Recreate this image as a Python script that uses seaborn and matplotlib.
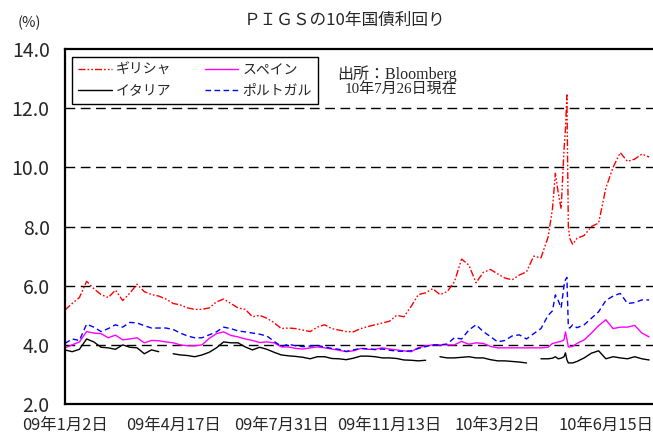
import numpy as np
import pandas as pd
import matplotlib
matplotlib.use("Agg")
import matplotlib.pyplot as plt
import seaborn as sns

# trading-day index of each observation (denser around the May 2010 spike)
days = list(range(0, 340, 5)) + [338, 340, 342, 344, 346, 347, 348, 349, 350, 352] + list(range(355, 406, 5))

greece = [5.18, 5.4, 5.6, 6.15, 5.9, 5.7, 5.6, 5.85, 5.5, 5.75,
          6.05, 5.8, 5.7, 5.65, 5.55, 5.4, 5.35, 5.25, 5.2, 5.2,
          5.25, 5.45, 5.55, 5.4, 5.25, 5.2, 4.95, 5.0, 4.9, 4.75,
          4.55, 4.57, 4.55, 4.5, 4.45, 4.6, 4.68, 4.55, 4.5, 4.45,
          4.44, 4.55, 4.62, 4.68, 4.74, 4.8, 5.0, 4.95, 5.3, 5.7,
          5.76, 5.9, 5.7, 5.8, 6.13, 6.9, 6.7, 6.1, 6.45, 6.55,
          6.4, 6.26, 6.2, 6.36, 6.47, 7.0, 6.94, 7.65,
          8.6, 9.8, 9.14, 8.6, 10.6, 11.3, 12.45, 8.0, 7.6, 7.4,
          7.6, 7.7, 8.0, 8.12, 9.3, 10.0, 10.5, 10.2, 10.28, 10.45, 10.35]

spain = [3.9, 4.0, 4.1, 4.45, 4.4, 4.38, 4.24, 4.33, 4.17, 4.2,
         4.24, 4.07, 4.15, 4.14, 4.1, 4.07, 4.0, 3.97, 3.97, 4.0,
         4.22, 4.38, 4.44, 4.32, 4.27, 4.2, 4.15, 4.08, 4.1, 4.07,
         3.93, 3.93, 3.88, 3.86, 3.9, 3.93, 3.9, 3.86, 3.82, 3.77,
         3.8, 3.88, 3.85, 3.85, 3.9, 3.86, 3.83, 3.8, 3.77, 3.9,
         3.97, 4.0, 4.0, 4.0, 4.0, 4.12, 4.02, 4.07, 4.05, 3.95,
         3.9, 3.9, 3.9, 3.9, 3.9, 3.9, 3.9, 3.92,
         4.05, 4.07, 4.1, 4.12, 4.17, 4.44, 4.2, 3.93, 3.93, 3.95,
         4.05, 4.17, 4.4, 4.65, 4.85, 4.55, 4.6, 4.6, 4.66, 4.4, 4.27]

italy = [3.83, 3.77, 3.85, 4.2, 4.1, 3.92, 3.9, 3.85, 4.0, 3.92,
         3.9, 3.7, 3.83, 3.77, np.nan, 3.7, 3.66, 3.64, 3.6, 3.66,
         3.75, 3.9, 4.1, 4.07, 4.07, 3.93, 3.83, 3.92, 3.85, 3.75,
         3.66, 3.63, 3.61, 3.58, 3.53, 3.6, 3.6, 3.54, 3.53, 3.5,
         3.55, 3.62, 3.62, 3.6, 3.56, 3.56, 3.54, 3.49, 3.48, 3.46,
         3.48, np.nan, 3.6, 3.56, 3.56, 3.58, 3.6, 3.56, 3.56, 3.5,
         3.46, 3.46, 3.44, 3.42, 3.39, np.nan, 3.53, 3.53,
         3.55, 3.6, 3.53, 3.55, 3.6, 3.73, 3.5, 3.39, 3.39, 3.39,
         3.44, 3.56, 3.72, 3.8, 3.53, 3.6, 3.56, 3.53, 3.6, 3.53, 3.49]

portugal = [4.05, 4.2, 4.15, 4.7, 4.6, 4.45, 4.55, 4.68, 4.6, 4.76,
            4.74, 4.65, 4.57, 4.57, 4.57, 4.52, 4.4, 4.3, 4.24, 4.24,
            4.34, 4.44, 4.6, 4.55, 4.47, 4.44, 4.4, 4.36, 4.3, 4.12,
            3.95, 4.02, 3.97, 3.94, 3.96, 3.98, 3.93, 3.88, 3.85, 3.78,
            3.83, 3.88, 3.87, 3.84, 3.86, 3.82, 3.79, 3.78, 3.8, 3.88,
            3.94, 4.0, 4.0, 4.03, 4.24, 4.2, 4.5, 4.68, 4.45, 4.28,
            4.1, 4.15, 4.3, 4.34, 4.2, 4.38, 4.55, 5.0,
            5.15, 5.69, 5.5, 5.25, 6.0, 6.2, 6.28, 4.6, 4.57, 4.68,
            4.58, 4.68, 4.9, 5.12, 5.5, 5.65, 5.74, 5.4, 5.43, 5.52, 5.52]

tick_days = [0, 75, 150, 225, 300, 375]
tick_labels = ['09年1月2日', '09年4月17日', '09年7月31日', '09年11月13日', '10年3月2日', '10年6月15日']
y_ticks = [2, 4, 6, 8, 10, 12, 14]

sns.set_theme(style="white")
plt.rcParams['font.family'] = ['Noto Sans CJK JP', 'DejaVu Sans']

df = pd.DataFrame({'day': days, 'ギリシャ': greece, 'スペイン': spain,
                   'イタリア': italy, 'ポルトガル': portugal})

fig = plt.figure(figsize=(6.53, 4.34), dpi=100)
ax = fig.add_axes([0.0995, 0.069, 0.91, 0.818])

styles = {
    'ギリシャ': dict(color='#ff0000', dashes=(5, 1.5, 1.2, 1.5, 1.2, 1.5)),
    'スペイン': dict(color='#ff00ff', dashes=None),
    'イタリア': dict(color='#000000', dashes=None),
    'ポルトガル': dict(color='#0000ff', dashes=(4, 2.5)),
}
handles = {}
for name in ['イタリア', 'スペイン', 'ポルトガル', 'ギリシャ']:
    st = styles[name]
    sub = df[['day', name]].copy()
    # missing quotes break the line into separate pieces
    sub['seg'] = sub[name].isna().cumsum()
    sub = sub.dropna()
    n0 = len(ax.lines)
    sns.lineplot(data=sub, x='day', y=name, units='seg', estimator=None, ax=ax,
                 color=st['color'], lw=1.0, legend=False)
    for line in ax.lines[n0:]:
        if st['dashes'] is not None:
            line.set_dashes(st['dashes'])
    handles[name] = ax.lines[n0]

# dashed reference lines
for v in [4, 6, 8, 10, 12]:
    ax.axhline(v, color='black', lw=1.0, dashes=(7, 4), zorder=0)

ax.set_xlim(0, 412)
ax.set_ylim(2, 14)
ax.set_yticks(y_ticks)
ax.set_yticklabels([f"{v:.1f}" for v in y_ticks], fontsize=14)
ax.set_xticks(tick_days)
ax.set_xticklabels(tick_labels, fontsize=11.8)
ax.tick_params(axis='both', direction='in', length=5, width=1, color='black')
ax.tick_params(axis='y', pad=11)
ax.tick_params(axis='x', pad=9)
ax.set_xlabel('')
ax.set_ylabel('')
for side in ['left', 'bottom', 'top']:
    ax.spines[side].set_color('black')
    ax.spines[side].set_linewidth(1.6)
ax.spines['right'].set_visible(False)

order = ['ギリシャ', 'イタリア', 'スペイン', 'ポルトガル']
leg = ax.legend([handles[n] for n in order], order, ncol=2, loc='upper left',
                bbox_to_anchor=(0.012, 0.978), fontsize=10, frameon=True,
                fancybox=False, framealpha=1, edgecolor='black',
                handlelength=2.4, columnspacing=2.4, borderpad=0.45,
                labelspacing=0.5, handletextpad=0.3, borderaxespad=0)
leg.get_frame().set_linewidth(1.0)

fig.text(0.516, 0.818, '出所：Bloomberg', fontsize=11.5,
         family=['Liberation Serif', 'Noto Sans CJK JP'])
fig.text(0.528, 0.783, '10年7月26日現在', fontsize=10.8,
         family=['Liberation Serif', 'Noto Sans CJK JP'])
fig.text(0.527, 0.952, 'ＰＩＧＳの10年国債利回り', fontsize=12, ha='center', va='center')
fig.text(0.045, 0.947, '(%)', fontsize=10.5, ha='center', va='center')

fig.savefig('out.png', dpi=100)
